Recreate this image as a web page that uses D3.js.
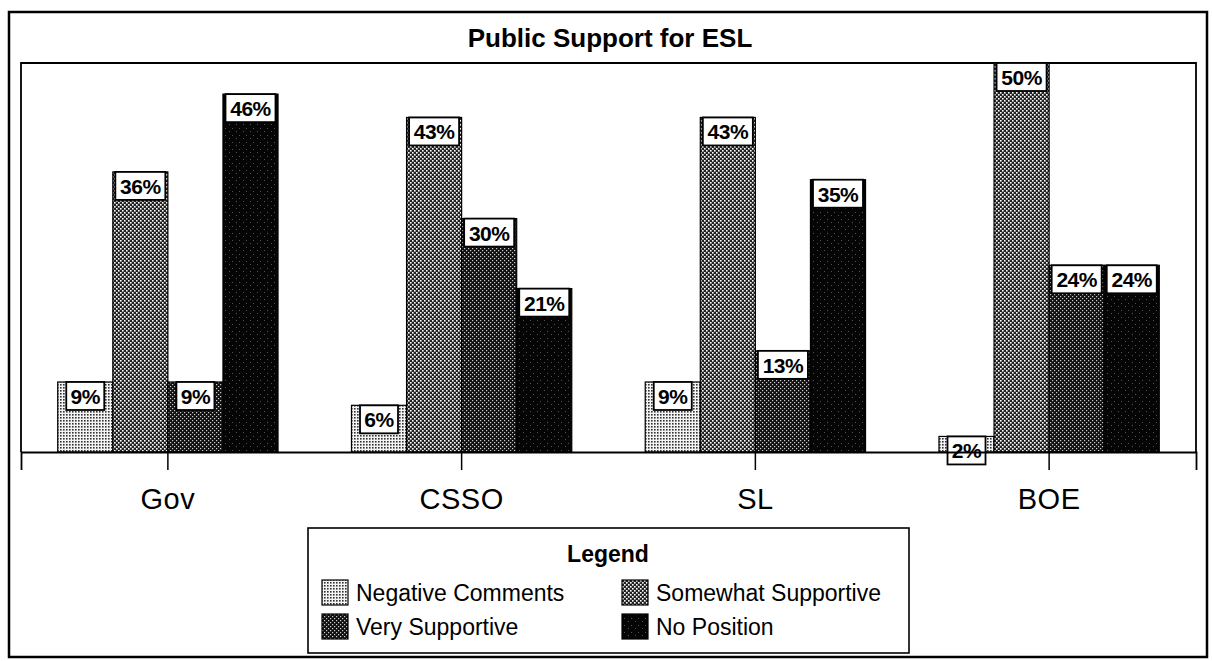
<!DOCTYPE html>
<html><head><meta charset="utf-8">
<script src="https://cdn.jsdelivr.net/npm/d3@7"></script>
<style>body{margin:0;background:#fff;} svg{display:block;font-family:Arial,"Liberation Sans",sans-serif;}</style>
</head><body>
<svg id="c" width="1212" height="661"></svg>
<script>
const categories = ["Gov", "CSSO", "SL", "BOE"];
const seriesNames = ["Negative Comments", "Somewhat Supportive", "Very Supportive", "No Position"];
const negativeComments = [9, 6, 9, 2];
const somewhatSupportive = [36, 43, 43, 50];
const verySupportive = [9, 30, 13, 24];
const noPosition = [46, 21, 35, 24];
const title = "Public Support for ESL";
const legendTitle = "Legend";

const seriesValues = [negativeComments, somewhatSupportive, verySupportive, noPosition];
const svg = d3.select("#c");
const defs = svg.append("defs");

// texture patterns
function pat(id, bg, dot, size, r, offs) {
  const p = defs.append("pattern").attr("id", id).attr("patternUnits", "userSpaceOnUse")
    .attr("width", size).attr("height", size);
  p.append("rect").attr("width", size).attr("height", size).attr("fill", bg);
  offs.forEach(o => p.append("rect").attr("x", o[0]).attr("y", o[1]).attr("width", r).attr("height", r).attr("fill", dot));
}
pat("p0", "#f4f4f4", "#333", 3, 1.6, [[0,0]]);
pat("p1", "#222", "#fff", 4, 1.6, [[0,0],[2,2]]);
pat("p2", "#111", "#ccc", 4, 1.2, [[0,0],[2,2]]);
pat("p3", "#050505", "#666", 7, 0.9, [[1,2],[5,5]]);
const fills = ["url(#p0)", "url(#p1)", "url(#p2)", "url(#p3)"];

// outer frame
svg.append("rect").attr("x", 9).attr("y", 12).attr("width", 1198).attr("height", 645)
  .attr("fill", "none").attr("stroke", "#000").attr("stroke-width", 2.5);

svg.append("text").attr("x", 610).attr("y", 47).attr("text-anchor", "middle")
  .attr("font-size", 26).attr("font-weight", "bold").text(title);

const L = 21, R = 1196, T = 63, B = 452;
const x0 = d3.scaleBand().domain(categories).range([L, R]).paddingInner(0.25).paddingOuter(0.125);
const x1 = d3.scaleBand().domain(seriesNames).range([0, x0.bandwidth()]);
const y = d3.scaleLinear().domain([0, 50]).range([B, T]);

// plot frame (left, top, right)
svg.append("path").attr("d", `M${L},${B}V${T}H${R}V${B}`).attr("fill", "none")
  .attr("stroke", "#000").attr("stroke-width", 1.8);

const g = svg.append("g");
categories.forEach((c, ci) => {
  seriesNames.forEach((s, si) => {
    const v = seriesValues[si][ci];
    g.append("rect").attr("x", x0(c) + x1(s)).attr("y", y(v))
      .attr("width", x1.bandwidth()).attr("height", B - y(v))
      .attr("fill", fills[si]).attr("stroke", "#000").attr("stroke-width", 1.2);
  });
});

// axis
const ax = svg.append("g").attr("transform", `translate(0,${B})`)
  .call(d3.axisBottom(x0).tickSize(18).tickPadding(18));
ax.select(".domain").attr("stroke-width", 1.8);
ax.selectAll(".tick line").attr("stroke-width", 1.5);
ax.selectAll(".tick text").attr("font-size", 29).attr("letter-spacing", 0.5)
  .attr("font-family", "Arial, 'Liberation Sans', sans-serif").attr("fill", "#000");

// labels
categories.forEach((c, ci) => {
  seriesNames.forEach((s, si) => {
    const v = seriesValues[si][ci];
    const txt = v + "%";
    const w = txt.length === 3 ? 50 : 38;
    const cx = x0(c) + x1(s) + x1.bandwidth() / 2;
    const top = y(v);
    g.append("rect").attr("x", cx - w / 2).attr("y", top).attr("width", w).attr("height", 28)
      .attr("fill", "#fff").attr("stroke", "#000").attr("stroke-width", 1.8);
    g.append("text").attr("x", cx).attr("y", top + 22).attr("text-anchor", "middle")
      .attr("font-size", 21).attr("font-weight", "bold").attr("letter-spacing", -0.5).text(txt);
  });
});

// legend
const lg = svg.append("g");
lg.append("rect").attr("x", 308).attr("y", 528).attr("width", 601).attr("height", 125)
  .attr("fill", "#fff").attr("stroke", "#000").attr("stroke-width", 1.6);
lg.append("text").attr("x", 608).attr("y", 562).attr("text-anchor", "middle")
  .attr("font-size", 23).attr("font-weight", "bold").text(legendTitle);
const lpos = [[322, 580], [622, 580], [322, 614], [622, 614]];
seriesNames.forEach((s, i) => {
  const [lx, ly] = lpos[i];
  lg.append("rect").attr("x", lx).attr("y", ly).attr("width", 26).attr("height", 25)
    .attr("fill", fills[i]).attr("stroke", "#000").attr("stroke-width", 1.2);
  lg.append("text").attr("x", lx + 34).attr("y", ly + 21).attr("font-size", 23).text(s);
});
</script>
</body></html>
